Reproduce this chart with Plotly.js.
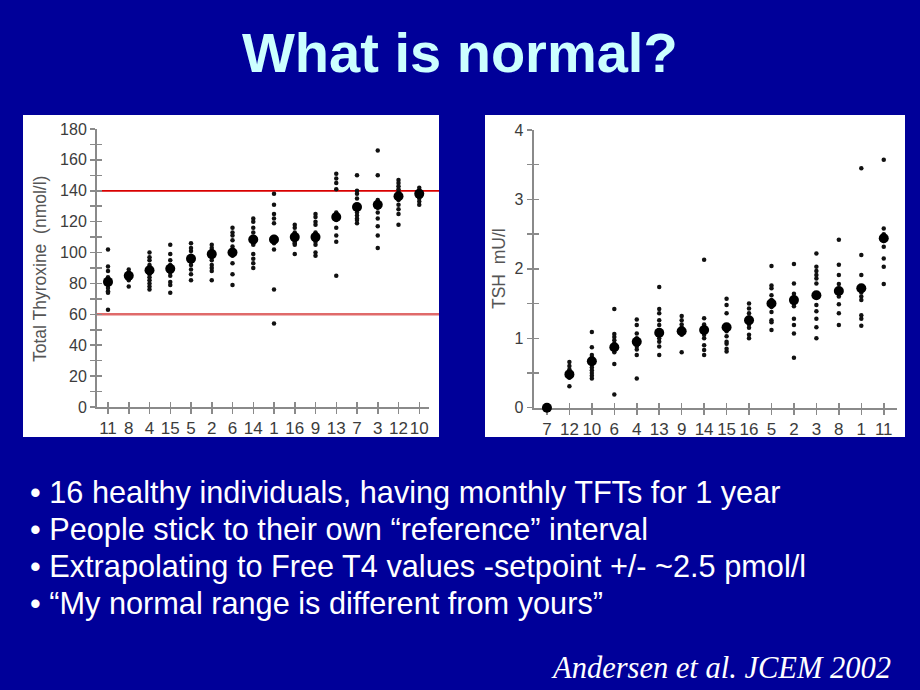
<!DOCTYPE html>
<html>
<head>
<meta charset="utf-8">
<script src="https://cdn.plot.ly/plotly-3.0.1.min.js"></script>
<style>
html,body{margin:0;padding:0;background:#000099;}
#chart{width:920px;height:690px;}
</style>
</head>
<body>
<div id="chart"></div>
<script>
// ---------- DATA ----------
const T4_IDS = ['11','8','4','15','5','2','6','14','1','16','9','13','7','3','12','10'];
const T4_MEANS = [81,85,88.5,89.5,96,99,100,108.5,108.5,110,110,123,129.5,131,136.5,138];
const T4_MONTHLY = [
  [102,91,88,84,82,81,80,79,77,75,74,63],
  [89,87,86,85,85,84,84,83,83,82,78],
  [100,97,95,92,89,88,86,84,82,80,78,76],
  [105,99,95,92,91,90,89,87,85,81,79,74],
  [106,103,101,98,96,95,94,92,89,86,82],
  [105,103,101,100,99,98,97,95,92,90,88,82],
  [116,113,111,108,104,101,100,99,98,93,86,79],
  [122,120,116,113,110,108,106,105,99,96,93,90],
  [138,131,125,122,119,110,108,107,106,102,76,54],
  [118,116,113,111,110,109,108,107,106,105,99],
  [125,123,120,118,113,111,110,109,107,105,100,98],
  [151,148,145,141,126,124,123,121,116,111,107,85],
  [150,140,138,135,130,129,128,126,124,122,121,119],
  [166,150,134,132,131,130,129,126,122,117,111,103],
  [147,145,143,141,139,137,136,134,131,128,125,118],
  [142,140,139,138,137,136,135,133,131]
];
const T4_REF_LIMITS = [140, 60];

const TSH_IDS = ['7','12','10','6','4','13','9','14','15','16','5','2','3','8','1','11'];
const TSH_MEANS = [0,0.48,0.67,0.87,0.95,1.08,1.1,1.12,1.16,1.26,1.5,1.55,1.62,1.68,1.72,2.44];
const TSH_MONTHLY = [
  [0,0,0,0,0,0,0,0,0,0,0,0],
  [0.66,0.6,0.55,0.5,0.48,0.47,0.45,0.43,0.31],
  [1.09,0.87,0.76,0.72,0.68,0.65,0.62,0.58,0.54,0.5,0.46,0.42],
  [1.42,1.06,1.02,0.97,0.92,0.9,0.87,0.84,0.8,0.63,0.19],
  [1.27,1.19,1.07,1.0,0.97,0.95,0.92,0.88,0.84,0.76,0.42],
  [1.74,1.42,1.36,1.26,1.19,1.1,1.06,1.0,0.95,0.88,0.76],
  [1.32,1.26,1.2,1.15,1.12,1.1,1.08,1.05,0.8],
  [2.13,1.29,1.2,1.15,1.12,1.08,1.05,1.0,0.9,0.83,0.76],
  [1.57,1.48,1.36,1.18,1.15,1.1,1.03,0.95,0.92,0.85,0.81],
  [1.5,1.43,1.36,1.3,1.26,1.2,1.15,1.05,1.0],
  [2.04,1.76,1.72,1.62,1.55,1.5,1.45,1.38,1.26,1.23,1.12],
  [2.07,1.79,1.64,1.58,1.55,1.5,1.46,1.28,1.19,1.07,0.72],
  [2.22,2.03,1.97,1.91,1.86,1.79,1.62,1.48,1.39,1.28,1.16,1.0],
  [2.42,2.06,1.91,1.78,1.7,1.65,1.6,1.49,1.36,1.19],
  [3.45,2.2,1.91,1.75,1.7,1.66,1.6,1.55,1.33,1.28,1.18],
  [3.57,2.58,2.5,2.44,2.4,2.32,2.15,2.03,1.78]
];

const TITLE = 'What is normal?';
const BULLETS = [
  '\u2022 16 healthy individuals, having monthly TFTs for 1 year',
  '\u2022 People stick to their own \u201creference\u201d interval',
  '\u2022 Extrapolating to Free T4 values -setpoint +/- ~2.5 pmol/l',
  '\u2022 \u201cMy normal range is different from yours\u201d'
];
const CITATION = 'Andersen et al. JCEM 2002';

// ---------- BUILD ----------
const W = 920, H = 690;
const px = v => v / W;
const py = v => 1 - v / H;
const SANS = 'Liberation Sans, Arial, sans-serif';
const AXIS_GRAY = '#8a8a8a';
const LABEL_GRAY = '#3c3c3c';

function flatten(ids, monthly) {
  const xs = [], ys = [];
  ids.forEach((id, i) => monthly[i].forEach(v => { xs.push(id); ys.push(v); }));
  return {xs, ys};
}
const t4f = flatten(T4_IDS, T4_MONTHLY);
const tshf = flatten(TSH_IDS, TSH_MONTHLY);

const dotMarker = {color: '#111', size: 4.5, symbol: 'circle'};
const meanMarker = {color: '#000', size: 10, symbol: 'circle'};

const traces = [
  {type:'scatter', mode:'markers', x:t4f.xs, y:t4f.ys, xaxis:'x', yaxis:'y', marker:dotMarker, hoverinfo:'skip', cliponaxis:false},
  {type:'scatter', mode:'markers', x:T4_IDS, y:T4_MEANS, xaxis:'x3', yaxis:'y3', marker:meanMarker, hoverinfo:'skip', cliponaxis:false},
  {type:'scatter', mode:'markers', x:tshf.xs, y:tshf.ys, xaxis:'x2', yaxis:'y2', marker:dotMarker, hoverinfo:'skip', cliponaxis:false},
  {type:'scatter', mode:'markers', x:TSH_IDS, y:TSH_MEANS, xaxis:'x4', yaxis:'y4', marker:meanMarker, hoverinfo:'skip', cliponaxis:false}
];

// geometry (pixels)
const L = {x0:97, x1:429, y0:407, y1:129, xr:[-0.53,15.47], yr:[0,180]};
const R = {x0:533.7, x1:897, y0:407.7, y1:130, xr:[-0.59,15.59], yr:[0,4]};

function xAxis(g, ids, anchor, main) {
  const a = {domain:[px(g.x0), px(g.x1)], anchor:anchor, type:'category', categoryorder:'array', categoryarray:ids,
    range:g.xr, fixedrange:true, showgrid:false, zeroline:false, layer:'below traces',
    ticklen:5, tickwidth:1.5, tickcolor:AXIS_GRAY, tickangle:0};
  if (main) {
    Object.assign(a, {showline:true, linecolor:AXIS_GRAY, linewidth:2, ticks:'outside',
      tickfont:{family:SANS, size:17, color:LABEL_GRAY}});
  } else {
    Object.assign(a, {showline:false, ticks:'inside', showticklabels:false});
  }
  return a;
}
function yAxis(g, dt, minor, anchor, main) {
  const a = {domain:[py(g.y0), py(g.y1)], anchor:anchor, range:g.yr, fixedrange:true, showgrid:false, zeroline:false,
    dtick:dt, tick0:0, layer:'below traces', ticklen:5, tickwidth:1.5, tickcolor:AXIS_GRAY};
  if (main) {
    Object.assign(a, {showline:true, linecolor:AXIS_GRAY, linewidth:2, ticks:'outside',
      minor:{dtick:minor, ticks:'outside', ticklen:5, tickwidth:1.5, tickcolor:AXIS_GRAY},
      tickfont:{family:SANS, size:16, color:LABEL_GRAY}});
  } else {
    Object.assign(a, {showline:false, ticks:'inside', showticklabels:false,
      minor:{dtick:minor, ticks:'inside', ticklen:5, tickwidth:1.5, tickcolor:AXIS_GRAY}});
  }
  return a;
}

const shapes = [
  {type:'rect', xref:'paper', yref:'paper', x0:px(23), x1:px(439), y0:py(437), y1:py(115), fillcolor:'#ffffff', line:{width:0}, layer:'below'},
  {type:'rect', xref:'paper', yref:'paper', x0:px(485), x1:px(905), y0:py(437), y1:py(115), fillcolor:'#ffffff', line:{width:0}, layer:'below'},
  {type:'line', xref:'paper', yref:'y', x0:px(97), x1:px(439), y0:T4_REF_LIMITS[0], y1:T4_REF_LIMITS[0], line:{color:'#d90000', width:1.8}, layer:'below'},
  {type:'line', xref:'paper', yref:'y', x0:px(97), x1:px(439), y0:T4_REF_LIMITS[1], y1:T4_REF_LIMITS[1], line:{color:'#e06a6a', width:2.5}, layer:'below'}
];

const annotations = [
  {xref:'paper', yref:'paper', x:px(460), y:py(52), text:'<b>'+TITLE+'</b>', showarrow:false, xanchor:'center', yanchor:'middle',
    font:{family:SANS, size:56, color:'#ccffff'}},
  {xref:'paper', yref:'paper', x:px(40), y:py(269), text:'Total Thyroxine  (nmol/l)', textangle:-90, showarrow:false,
    xanchor:'center', yanchor:'middle', font:{family:SANS, size:17.5, color:'#555'}},
  {xref:'paper', yref:'paper', x:px(499), y:py(269), text:'TSH  mU/l', textangle:-90, showarrow:false,
    xanchor:'center', yanchor:'middle', font:{family:SANS, size:17.5, color:'#555'}},
  {xref:'paper', yref:'paper', x:px(893), y:py(668), text:'<i>'+CITATION+'</i>', showarrow:false, xanchor:'right', yanchor:'middle',
    font:{family:'Liberation Serif, Times New Roman, serif', size:30.5, color:'#ffffff'}}
];
const bulletY = [492, 529, 566, 603];
BULLETS.forEach((t, i) => annotations.push({xref:'paper', yref:'paper', x:px(28), y:py(bulletY[i]), text:t, showarrow:false,
  xanchor:'left', yanchor:'middle', font:{family:SANS, size:30.7, color:'#ffffff'}}));

const layout = {
  width:W, height:H, margin:{l:0,r:0,t:0,b:0,pad:0},
  paper_bgcolor:'#000099', plot_bgcolor:'rgba(0,0,0,0)', showlegend:false,
  xaxis: xAxis(L, T4_IDS, 'y', true),
  yaxis: yAxis(L, 20, 10, 'x', true),
  xaxis3: xAxis(L, T4_IDS, 'y3', false),
  yaxis3: yAxis(L, 20, 10, 'x3', false),
  xaxis2: xAxis(R, TSH_IDS, 'y2', true),
  yaxis2: yAxis(R, 1, 0.5, 'x2', true),
  xaxis4: xAxis(R, TSH_IDS, 'y4', false),
  yaxis4: yAxis(R, 1, 0.5, 'x4', false),
  shapes: shapes,
  annotations: annotations
};

Plotly.newPlot('chart', traces, layout, {staticPlot:true, displayModeBar:false});
</script>
</body>
</html>
